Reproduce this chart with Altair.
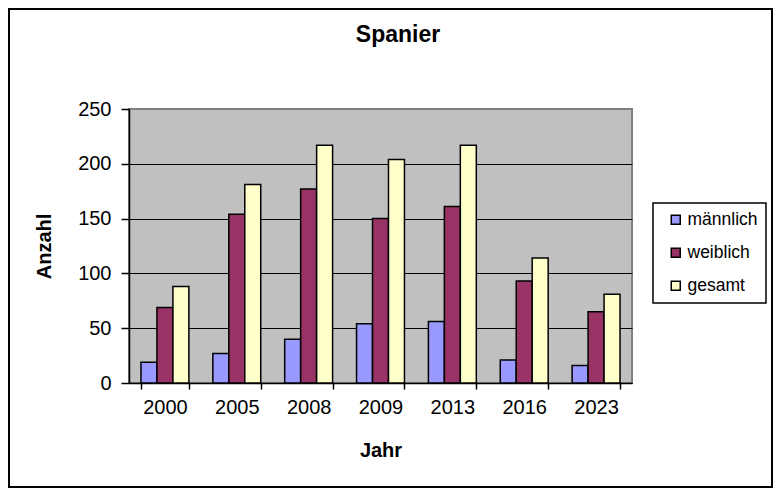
import altair as alt
import pandas as pd

years = ["2000", "2005", "2008", "2009", "2013", "2016", "2023"]
maennlich = [19, 27, 40, 54, 56, 21, 16]
weiblich = [69, 154, 177, 150, 161, 93, 65]
gesamt = [88, 181, 217, 204, 217, 114, 81]
series = ["männlich", "weiblich", "gesamt"]
colors = ["#9999FF", "#993366", "#FFFFCC"]
chart_title = "Spanier"

rows = []
for name, vals in zip(series, [maennlich, weiblich, gesamt]):
    for y, v in zip(years, vals):
        rows.append({"Jahr": y, "Serie": name, "Anzahl": v})
df = pd.DataFrame(rows)

FONT = "Arial, Liberation Sans, sans-serif"

bars = alt.Chart(df).mark_bar(stroke="black", strokeWidth=1.5).encode(
    x=alt.X("Jahr:N", sort=years,
            scale=alt.Scale(paddingInner=0.3333, paddingOuter=0.1667),
            axis=alt.Axis(title="Jahr", labelAngle=0, tickBand="extent",
                          labelFontSize=20, labelPadding=8, tickSize=6,
                          titleFontSize=20, titleFontWeight="bold",
                          titleY=67, titleBaseline="middle")),
    xOffset=alt.XOffset("Serie:N", sort=series,
                        scale=alt.Scale(paddingInner=0, paddingOuter=0)),
    y=alt.Y("Anzahl:Q",
            scale=alt.Scale(domain=[0, 250], nice=False),
            axis=alt.Axis(title="Anzahl", values=[0, 50, 100, 150, 200, 250],
                          grid=True,
                          gridColor={"condition": {"test": "datum.value >= 250", "value": "#808080"}, "value": "black"},
                          gridWidth=1,
                          labelFontSize=20, labelPadding=10, tickSize=8,
                          titleFontSize=20, titleFontWeight="bold",
                          titleAngle=270, titleX=-85, titleY=137,
                          titleAlign="center", titleBaseline="middle")),
    color=alt.Color("Serie:N", sort=series,
                    scale=alt.Scale(domain=series, range=colors),
                    legend=alt.Legend(title=None, orient="none",
                                      legendX=524, legendY=94)),
)

one = pd.DataFrame({"t": [chart_title]})

border = alt.Chart(one).mark_rect(
    fill=None, stroke="black", strokeWidth=2
).encode(
    x=alt.value(-120), x2=alt.value(643),
    y=alt.value(-100), y2=alt.value(378),
)

title = alt.Chart(one).mark_text(
    fontSize=23, fontWeight="bold", font=FONT, color="black",
    align="center", baseline="alphabetic"
).encode(
    text="t:N", x=alt.value(269), y=alt.value(-67),
)

chart = alt.layer(bars, border, title).properties(
    width=503, height=274,
    padding={"left": 121, "top": 101, "right": 141, "bottom": 105},
    autosize=alt.AutoSizeParams(type="none"),
).configure(
    font=FONT,
    background="white",
).configure_view(
    fill="#C0C0C0", stroke="#808080", strokeWidth=2,
).configure_axis(
    domainColor="black", domainWidth=1.5,
    tickColor="black", tickWidth=1.5,
    labelColor="black", titleColor="black",
    labelFont=FONT, titleFont=FONT,
).configure_legend(
    fillColor="white", strokeColor="black", strokeWidth=1.5,
    padding=8, symbolOffset=6, symbolType="square", symbolSize=81,
    symbolStrokeColor="black", symbolStrokeWidth=1.5, symbolOpacity=1,
    labelFontSize=17.5, labelFont=FONT, labelColor="black",
    rowPadding=14, labelOffset=3,
)

chart.save("out.html", embed_options={"renderer": "svg", "actions": False})
